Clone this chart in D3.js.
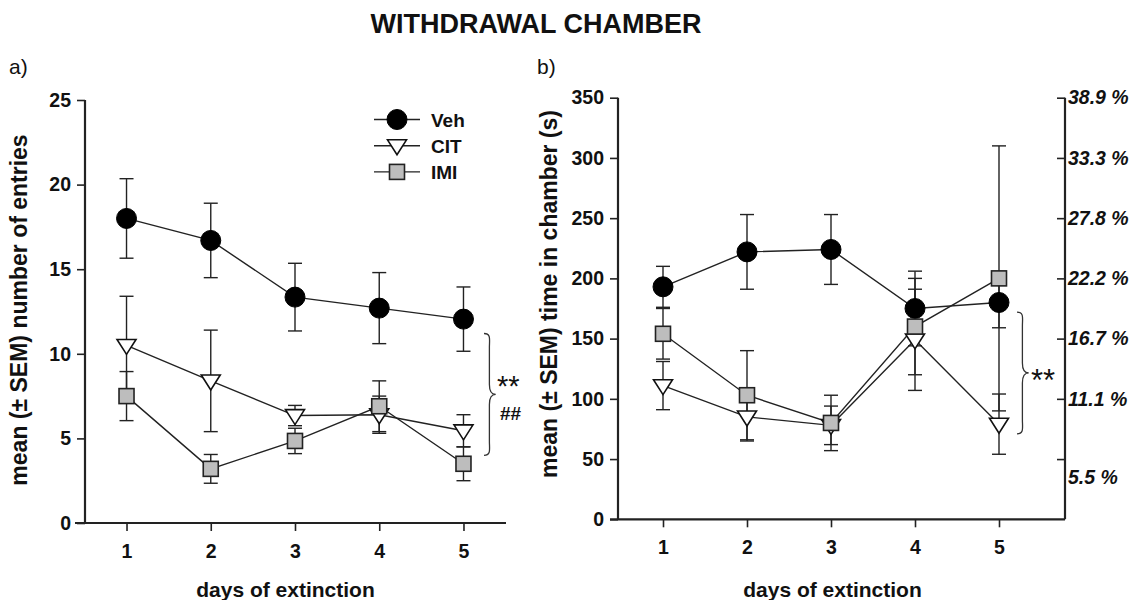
<!DOCTYPE html>
<html>
<head>
<meta charset="utf-8">
<script src="https://cdn.jsdelivr.net/npm/d3@7"></script>
<style>
  html, body { margin: 0; padding: 0; background: #fff; }
  svg { display: block; font-family: "Liberation Sans", Arial, sans-serif; }
</style>
</head>
<body>
<svg id="chart" width="1137" height="600"></svg>
<script>
// Days of extinction
const days = [1, 2, 3, 4, 5];
const groups = ["Veh", "CIT", "IMI"];

// a) number of entries (mean and SEM)
const entriesVeh = [18.0, 16.7, 13.35, 12.7, 12.05];
const entriesVehSem = [2.35, 2.2, 2.0, 2.1, 1.9];
const entriesCit = [10.5, 8.4, 6.35, 6.4, 5.45];
const entriesCitSem = [2.9, 3.0, 0.6, 1.1, 0.95];
const entriesImi = [7.5, 3.2, 4.85, 6.9, 3.5];
const entriesImiSem = [1.45, 0.85, 0.75, 1.5, 1.0];

// b) time in chamber, seconds (mean and SEM)
const timeVeh = [193, 222, 224, 175, 180];
const timeVehSem = [17, 31, 29, 31, 21];
const timeCit = [111, 85, 78, 149, 79];
const timeCitSem = [20, 20, 16, 42, 25];
const timeImi = [154, 103, 80, 160, 200];
const timeImiSem = [21, 37, 23, 40, 110];

// Axis ticks
const entriesTicks = [0, 5, 10, 15, 20, 25];
const timeTicks = [0, 50, 100, 150, 200, 250, 300, 350];
const percentTicks = [50, 100, 150, 200, 250, 300, 350];
const percentLabels = ["5.5 %", "11.1 %", "16.7 %", "22.2 %", "27.8 %", "33.3 %", "38.9 %"];

const svg = d3.select("#chart");
const INK = "#111";
const LINE = "#222";
const FONT = "'Liberation Sans', Arial, sans-serif";

function series(vals, sems) {
  return days.map((d, i) => ({ day: d, v: vals[i], s: sems[i] }));
}

const markerSize = { circle: 10, tri: 9.5, square: 7.5 };

function drawMarker(g, kind, x, y) {
  if (kind === "Veh") {
    g.append("circle").attr("cx", x).attr("cy", y).attr("r", markerSize.circle)
      .attr("fill", "#000").attr("stroke", "#000");
  } else if (kind === "CIT") {
    const r = markerSize.tri;
    g.append("path")
      .attr("d", `M${x - r},${y - r * 0.62}L${x + r},${y - r * 0.62}L${x},${y + r * 0.95}Z`)
      .attr("fill", "#fff").attr("stroke", "#111").attr("stroke-width", 1.6);
  } else {
    const h = markerSize.square;
    g.append("rect").attr("x", x - h).attr("y", y - h).attr("width", 2 * h).attr("height", 2 * h)
      .attr("fill", "#bdbdbd").attr("stroke", "#222").attr("stroke-width", 1.6);
  }
}

function drawPanel(cfg) {
  const g = svg.append("g");
  const x = cfg.x, y = cfg.y;

  // Axes
  const yAxis = d3.axisLeft(y).tickValues(cfg.yTicks).tickSize(8).tickPadding(6);
  const ya = g.append("g").attr("transform", `translate(${cfg.axisX},0)`).call(yAxis);
  ya.select(".domain").attr("d", `M0,${y(cfg.yTop)}V${cfg.baseY}`);
  const xAxis = d3.axisBottom(x).tickValues(days).tickSize(8).tickPadding(13).tickFormat(d3.format("d"));
  const xa = g.append("g").attr("transform", `translate(0,${cfg.baseY})`).call(xAxis);
  xa.select(".domain").attr("d", `M${cfg.xStart},0H${cfg.xEnd}`);
  [ya, xa].forEach(a => {
    a.select(".domain").attr("stroke", LINE).attr("stroke-width", 2.2);
    a.selectAll(".tick line").attr("stroke", LINE).attr("stroke-width", 1.6);
    a.selectAll(".tick text").attr("fill", INK).attr("font-size", 19.5).attr("font-weight", "bold")
      .attr("font-family", FONT);
  });

  // Axis titles
  g.append("text").attr("x", (cfg.xStart + cfg.xEnd) / 2 - 5).attr("y", 597)
    .attr("text-anchor", "middle").attr("font-size", 21).attr("font-weight", "bold").attr("fill", INK)
    .text("days of extinction");
  g.append("text")
    .attr("transform", `translate(${cfg.titleX},${cfg.titleY}) rotate(-90)`)
    .attr("text-anchor", "middle").attr("font-size", 23).attr("font-weight", "bold").attr("fill", INK)
    .text(cfg.yTitle);

  // Error bars, lines and markers for each group
  const line = d3.line().x(d => x(d.day)).y(d => y(d.v));
  cfg.data.forEach(([name, data]) => {
    const eb = g.append("g").attr("stroke", LINE).attr("stroke-width", 1.4).attr("fill", "none");
    data.forEach(d => {
      const cx = x(d.day);
      eb.append("line").attr("x1", cx).attr("x2", cx).attr("y1", y(d.v + d.s)).attr("y2", y(d.v - d.s));
      eb.append("line").attr("x1", cx - 7).attr("x2", cx + 7).attr("y1", y(d.v + d.s)).attr("y2", y(d.v + d.s));
      eb.append("line").attr("x1", cx - 7).attr("x2", cx + 7).attr("y1", y(d.v - d.s)).attr("y2", y(d.v - d.s));
    });
  });
  cfg.data.forEach(([name, data]) => {
    g.append("path").datum(data).attr("d", line)
      .attr("fill", "none").attr("stroke", LINE).attr("stroke-width", 1.4);
  });
  cfg.data.forEach(([name, data]) => {
    const mg = g.append("g");
    data.forEach(d => drawMarker(mg, name, x(d.day), y(d.v)));
  });
  return g;
}

// Curly brace opening to the left
function brace(x0, y0, y1, w) {
  const m = (y0 + y1) / 2;
  return `M${x0},${y0} C${x0 + w * 0.8},${y0} ${x0 + w * 0.6},${y0 + 6} ${x0 + w * 0.6},${y0 + 14}` +
    ` L${x0 + w * 0.6},${m - 10} C${x0 + w * 0.6},${m - 3} ${x0 + w * 0.8},${m} ${x0 + w * 1.3},${m}` +
    ` C${x0 + w * 0.8},${m} ${x0 + w * 0.6},${m + 3} ${x0 + w * 0.6},${m + 10}` +
    ` L${x0 + w * 0.6},${y1 - 14} C${x0 + w * 0.6},${y1 - 6} ${x0 + w * 0.8},${y1} ${x0},${y1}`;
}

// Title and panel labels
svg.append("text").attr("x", 536).attr("y", 33).attr("text-anchor", "middle")
  .attr("font-size", 27).attr("font-weight", "bold").attr("fill", INK).text("WITHDRAWAL CHAMBER");
svg.append("text").attr("x", 9).attr("y", 74).attr("font-size", 21).attr("fill", INK).text("a)");
svg.append("text").attr("x", 537).attr("y", 74).attr("font-size", 21).attr("fill", INK).text("b)");

// Panel a
const xA = d3.scaleLinear().domain([0.5, 5.5]).range([84.4, 505.6]);
const yA = d3.scaleLinear().domain([0, 25]).range([523, 100]);
const gA = drawPanel({
  x: xA, y: yA, yTicks: entriesTicks, yTop: 25, axisX: 85, baseY: 523,
  xStart: 75, xEnd: 506, titleX: 27, titleY: 310,
  yTitle: "mean (± SEM) number of entries",
  data: [["Veh", series(entriesVeh, entriesVehSem)], ["CIT", series(entriesCit, entriesCitSem)], ["IMI", series(entriesImi, entriesImiSem)]]
});
gA.append("path").attr("d", brace(484, yA(11.2), yA(4.0), 9))
  .attr("fill", "none").attr("stroke", "#333").attr("stroke-width", 1.3);
gA.append("text").attr("x", 497).attr("y", 396).attr("font-size", 29).attr("fill", INK).text("**");
gA.append("text").attr("x", 500).attr("y", 420).attr("font-size", 19).attr("font-weight", "bold").attr("fill", INK).text("##");

// Legend
const legend = svg.append("g");
groups.forEach((name, i) => {
  const ly = 119.5 + i * 26.2;
  legend.append("line").attr("x1", 374).attr("x2", 420).attr("y1", ly).attr("y2", ly)
    .attr("stroke", LINE).attr("stroke-width", 1.4);
  drawMarker(legend, name, 397, ly);
  legend.append("text").attr("x", 431).attr("y", ly + 7).attr("font-size", 19).attr("font-weight", "bold")
    .attr("fill", INK).text(name);
});

// Panel b
const xB = d3.scaleLinear().domain([1, 5]).range([663, 999]);
const yB = d3.scaleLinear().domain([0, 350]).range([519.3, 97.7]);
const gB = drawPanel({
  x: xB, y: yB, yTicks: timeTicks, yTop: 350, axisX: 618, baseY: 519.3,
  xStart: 610, xEnd: 1065, titleX: 557, titleY: 294,
  yTitle: "mean (± SEM) time in chamber (s)",
  data: [["Veh", series(timeVeh, timeVehSem)], ["CIT", series(timeCit, timeCitSem)], ["IMI", series(timeImi, timeImiSem)]]
});

// Right axis: share of session time
const yPct = d3.axisRight(yB).tickValues(percentTicks).tickSize(-8).tickPadding(6)
  .tickFormat((d, i) => percentLabels[i]);
const pa = gB.append("g").attr("transform", "translate(1065,0)").call(yPct);
pa.select(".domain").attr("d", `M0,${yB(350)}V519.3`).attr("stroke", LINE).attr("stroke-width", 2.2);
pa.selectAll(".tick line").attr("stroke", LINE).attr("stroke-width", 1.6);
pa.selectAll(".tick text").attr("x", 3).attr("fill", INK).attr("font-size", 19.5).attr("font-weight", "bold")
  .attr("font-style", "italic").attr("font-family", FONT);
pa.selectAll(".tick").filter(d => d === 50).select("text").attr("dy", "1.25em");

gB.append("path").attr("d", brace(1017, yB(172), yB(71), 9))
  .attr("fill", "none").attr("stroke", "#333").attr("stroke-width", 1.3);
gB.append("text").attr("x", 1031).attr("y", yB(121) + 17).attr("font-size", 31).attr("fill", INK).text("**");
</script>
</body>
</html>
